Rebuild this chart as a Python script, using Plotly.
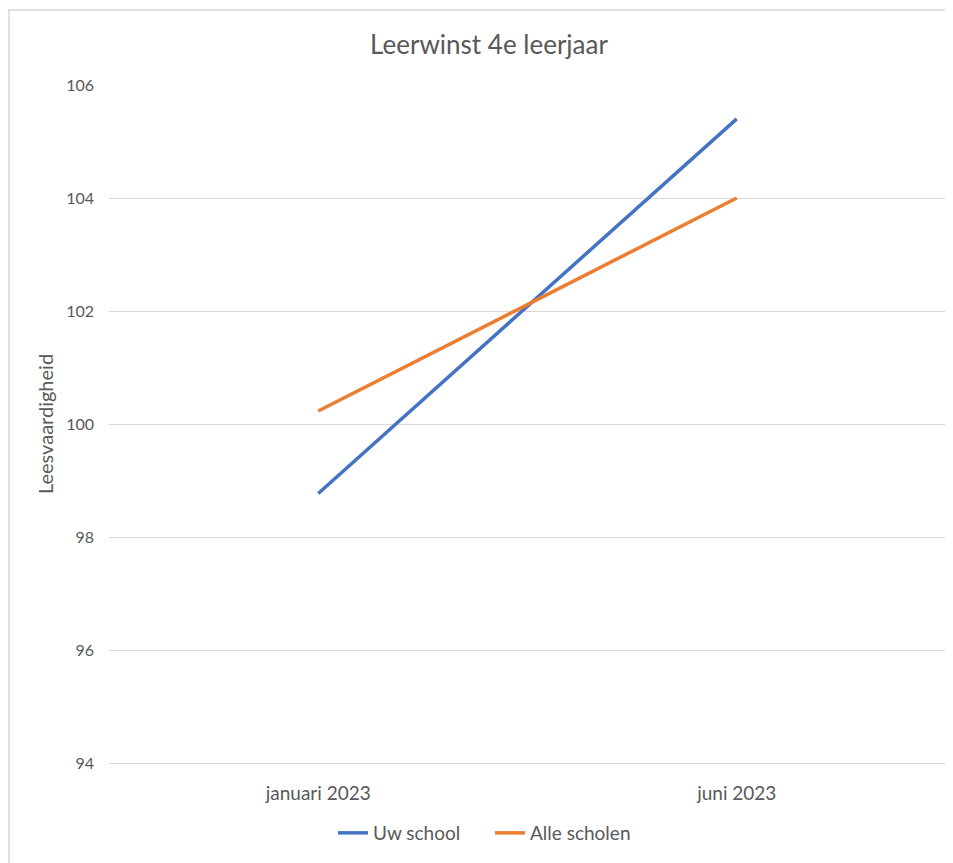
import plotly.graph_objects as go

categories = ["januari 2023", "juni 2023"]
uw_school = [98.77, 105.4]
alle_scholen = [100.23, 104.0]
y_ticks = [94, 96, 98, 100, 102, 104, 106]

FONT = "Lato, 'Open Sans', sans-serif"
GRAY = "#595959"

OFF = 8  # page body margin
W, H = 953 - OFF, 863 - OFF
L, T = 109 - OFF, 85 - OFF
R = W - (946 - OFF)
B = H - (763 - OFF)
pw = W - L - R
ph = H - T - B


def px_x(p):
    return (p - OFF - L) / pw


def px_y(p):
    return (H - B - (p - OFF)) / ph


fig = go.Figure()
fig.add_trace(go.Scatter(x=categories, y=uw_school, mode="lines", name="Uw school",
                         line=dict(color="#4472C4", width=3.5)))
fig.add_trace(go.Scatter(x=categories, y=alle_scholen, mode="lines", name="Alle scholen",
                         line=dict(color="#ED7D31", width=3.5)))

fig.update_layout(
    width=W, height=H,
    margin=dict(l=L, r=R, t=T, b=B),
    paper_bgcolor="white", plot_bgcolor="white",
    font=dict(family=FONT, color=GRAY, size=16),
    title=dict(text="Leerwinst 4e leerjaar", x=px_x(489), xref="paper", xanchor="center",
               y=1 - (45 - OFF) / H, yanchor="middle",
               font=dict(size=26, color=GRAY, family=FONT)),
    xaxis=dict(type="category", range=[-0.5, 1.5], showgrid=False,
               showline=True, linecolor="#d9d9d9", linewidth=1,
               zeroline=False, ticks="", tickfont=dict(size=19, color=GRAY),
               ticklabelstandoff=13),
    yaxis=dict(range=[94, 106], tickvals=y_ticks, showgrid=True, gridcolor="#d9d9d9",
               gridwidth=1, zeroline=False, showline=False, ticks="",
               tickfont=dict(size=16, color=GRAY), ticklabelstandoff=14,
               title=dict(text="Leesvaardigheid", font=dict(size=20, color=GRAY), standoff=7)),
    legend=dict(orientation="h", x=px_x(490), xanchor="center", y=px_y(833), yanchor="middle",
                font=dict(size=19, color=GRAY), itemwidth=30, tracegroupgap=0,
                entrywidth=112),
    showlegend=True,
)

fig.add_shape(type="line", xref="paper", yref="paper", x0=px_x(8), x1=px_x(953), y0=px_y(10), y1=px_y(10),
              line=dict(color="#e0e0e0", width=2), layer="below")
fig.add_shape(type="line", xref="paper", yref="paper", x0=px_x(9), x1=px_x(9), y0=px_y(10), y1=px_y(863),
              line=dict(color="#e0e0e0", width=2), layer="below")

fig.write_html("out.html")
